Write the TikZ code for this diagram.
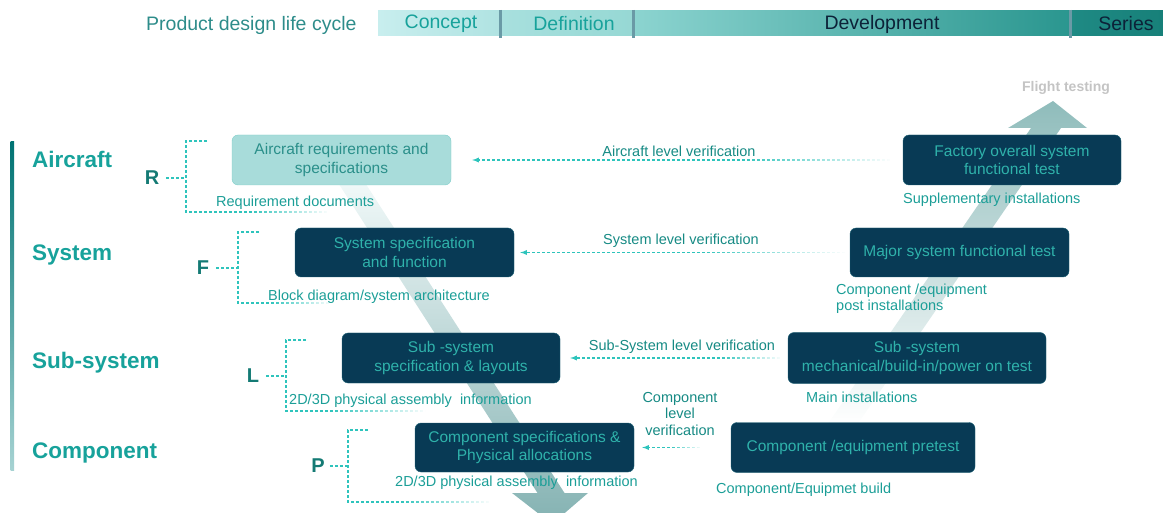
\documentclass[tikz,border=0pt]{standalone}
\usepackage{fontspec}
\setmainfont{Liberation Sans}
\usepackage{xcolor}
\usetikzlibrary{shapes,arrows,fit,positioning,fadings}

\definecolor{navy}{HTML}{083A55}
\definecolor{navyline}{HTML}{1C6275}
\definecolor{boxtext}{HTML}{2FB2AB}
\definecolor{paleteal}{HTML}{A8DCDA}
\definecolor{palerim}{HTML}{7FCFCA}
\definecolor{paletext}{HTML}{2A8F8A}
\definecolor{labteal}{HTML}{1B9E97}
\definecolor{verteal}{HTML}{168A84}
\definecolor{levteal}{HTML}{17A29B}
\definecolor{letteal}{HTML}{147A74}
\definecolor{dotteal}{HTML}{2EC4BC}
\definecolor{headteal}{HTML}{2D8C8A}
\definecolor{darkink}{HTML}{0C2238}
\definecolor{sepgray}{HTML}{6A9AA6}
\definecolor{flightgray}{HTML}{C4C4C4}
\definecolor{barA}{HTML}{C8EEEE}
\definecolor{barB}{HTML}{B0E3E2}
\definecolor{barC}{HTML}{A8E0DE}
\definecolor{barD}{HTML}{96D8D4}
\definecolor{barE}{HTML}{8CD4D0}
\definecolor{barF}{HTML}{2A968F}
\definecolor{barG}{HTML}{1F8A84}
\definecolor{barH}{HTML}{178079}
\definecolor{downtop}{HTML}{F0F8F8}
\definecolor{downbot}{HTML}{84B2B2}
\definecolor{uptop}{HTML}{8FBCBB}

\tikzfading[name=fade in east, left color=transparent!100, right color=transparent!0]

\begin{document}
\begin{tikzpicture}[x=1pt, y=-1pt, font=\fontsize{14.5}{16.5}\selectfont,
    % Styles for the V-cycle picture
    box/.style={rectangle, draw=navyline, fill=navy, text=boxtext, rounded corners=6pt, align=center, inner sep=2pt, font=\fontsize{15.5}{18.5}\selectfont},
    reqbox/.style={box, draw=palerim, fill=paleteal, text=paletext},
    level/.style={anchor=west, inner sep=0pt, text=levteal, font=\fontsize{22.5}{26}\selectfont\bfseries},
    letter/.style={inner sep=2pt, text=letteal, font=\fontsize{20}{24}\selectfont\bfseries},
    note/.style={anchor=west, align=left, inner sep=0pt, text=labteal},
    verif/.style={align=center, inner sep=0pt, text=verteal},
    phase/.style={font=\fontsize{19.5}{22}\selectfont},
    dotline/.style={draw=dotteal, line width=1.3pt, dash pattern=on 3pt off 2pt},
    line/.style={dotline, -latex},
    veil/.style={fill=white, path fading=fade in east}]

    \useasboundingbox (0,0) rectangle (1163,513);

    % Big arrows behind everything
    \begin{scope}
    \clip (0,0) rectangle (1163,513);
    \shade[top color=downtop, bottom color=downbot] (339.5,185) -- (537.5,493) -- (512,493) -- (552,524) -- (588,493) -- (564.5,493) -- (366.5,185) -- cycle;
    \shade[top color=uptop, bottom color=white] (827,425) -- (1031,128) -- (1008,128) -- (1053,101) -- (1087,128) -- (1061,128) -- (857,425) -- cycle;
    \end{scope}

    % Header: life cycle bar
    \node [phase, anchor=west, inner sep=0pt, text=headteal] (title) at (146,25) {Product design life cycle};
    \shade[left color=barA, right color=barB] (378,11) rectangle (500,36);
    \shade[left color=barC, right color=barD] (500,11) rectangle (633,36);
    \shade[left color=barE, right color=barF] (633,11) rectangle (1070,36);
    \shade[left color=barG, right color=barH] (1070,11) rectangle (1163,36);
    \draw[sepgray, line width=3pt] (500,10) -- (500,38);
    \draw[sepgray, line width=3pt] (633,10) -- (633,38);
    \draw[sepgray, line width=3pt] (1070,10) -- (1070,38);
    \node [phase, text=levteal] (concept) at (441,24) {Concept};
    \node [phase, text=levteal] (definition) at (574,24) {Definition};
    \node [phase, text=darkink] (development) at (882,24) {Development};
    \node [phase, text=darkink] (series) at (1126,24) {Series};

    % Levels on the left
    \shade[top color=teal!90!black, bottom color=teal!35] (10.5,142) rectangle (14,470);
    \node [level] (aircraft) at (32,159) {Aircraft};
    \node [level] (system) at (32,255) {System};
    \node [level] (subsystem) at (32,363) {Sub-system};
    \node [level] (component) at (32,453) {Component};

    % Node: design side (left)
    \node [reqbox, minimum width=219pt, minimum height=50pt] (acreq) at (341.5,160) {Aircraft requirements and\\specifications};
    \node [box, minimum width=219pt, minimum height=49pt] (sysspec) at (404.5,252.5) {System specification\\and function};
    \node [box, minimum width=218pt, minimum height=50pt] (subspec) at (451,358) {Sub -system\\specification \& layouts};
    \node [box, minimum width=219pt, minimum height=49pt] (compspec) at (524.5,447.5) {Component specifications \&\\Physical allocations};

    % Node: test side (right)
    \node [box, right of=acreq, node distance=670.5pt, minimum width=218pt, minimum height=50pt] (factest) {Factory overall system\\functional test};
    \node [box, right of=sysspec, node distance=555pt, minimum width=219pt, minimum height=49pt] (majtest) {Major system functional test};
    \node [box, right of=subspec, node distance=466pt, minimum width=258pt, minimum height=51pt] (subtest) {Sub -system\\mechanical/build-in/power on test};
    \node [box, right of=compspec, node distance=328.5pt, minimum width=244pt, minimum height=50pt] (pretest) {Component /equipment pretest};

    % Edges (verification)
    \path [line, shorten <=13pt, shorten >=21pt] (factest) -- (acreq);
    \node [verif] (acver) at (679,151) {Aircraft level verification};
    \path [line, shorten <=5pt, shorten >=6pt] (majtest) -- (sysspec);
    \node [verif] (sysver) at (681,241) {System level verification};
    \path [line, shorten <=8pt, shorten >=10pt] (subtest) -- (subspec);
    \node [verif] (subver) at (682,347) {Sub-System level verification};
    \path [line, shorten <=31pt, shorten >=8pt] (pretest) -- (compspec);
    \node [verif] (compver) at (680,414) {Component\\level\\verification};

    % R F L P brackets
    \node [letter] (lr) at (152,178) {R};
    \draw [dotline, shorten <=5pt] (lr) -- (186,178);
    \draw [dotline] (207,141) -- (186,141) -- (186,212) -- (327,212);

    \node [letter] (lf) at (203,268) {F};
    \draw [dotline, shorten <=5pt] (lf) -- (238,268);
    \draw [dotline] (259,232) -- (238,232) -- (238,303) -- (330,303);

    \node [letter] (ll) at (253,376) {L};
    \draw [dotline, shorten <=5pt] (ll) -- (286,376);
    \draw [dotline] (306,340) -- (286,340) -- (286,411) -- (425,411);

    \node [letter] (lp) at (318,466) {P};
    \draw [dotline, shorten <=3pt] (lp) -- (348,466);
    \draw [dotline] (368,430) -- (348,430) -- (348,502) -- (490,502);

    % Fading ends of the dotted lines
    \fill [veil] (740,157) rectangle (892,163);
    \fill [veil] (700,250) rectangle (847,256);
    \fill [veil] (720,355) rectangle (782,361);
    \fill [veil] (670,444.5) rectangle (702,450.5);
    \fill [veil] (250,209) rectangle (329,215);
    \fill [veil] (270,300) rectangle (332,306);
    \fill [veil] (330,408) rectangle (427,414);
    \fill [veil] (400,499) rectangle (492,505);

    % Notes under the boxes
    \node [note] (reqdocs) at (216,203) {Requirement documents};
    \node [note] (blockdiag) at (268,297) {Block diagram/system architecture};
    \node [note] (asminfo) at (289,401) {2D/3D physical assembly\ \ information};
    \node [note] (asminfob) at (395,483) {2D/3D physical assembly\ \ information};
    \node [note] (suppinst) at (903,200) {Supplementary installations};
    \node [note] (postinst) at (836,299) {Component /equipment\\post installations};
    \node [note] (maininst) at (806,397) {Main installations};
    \node [note] (compbuild) at (716,490) {Component/Equipmet build};
    \node [font=\fontsize{14}{16}\selectfont\bfseries, text=flightgray] (flight) at (1066,88) {Flight testing};

\end{tikzpicture}
\end{document}
